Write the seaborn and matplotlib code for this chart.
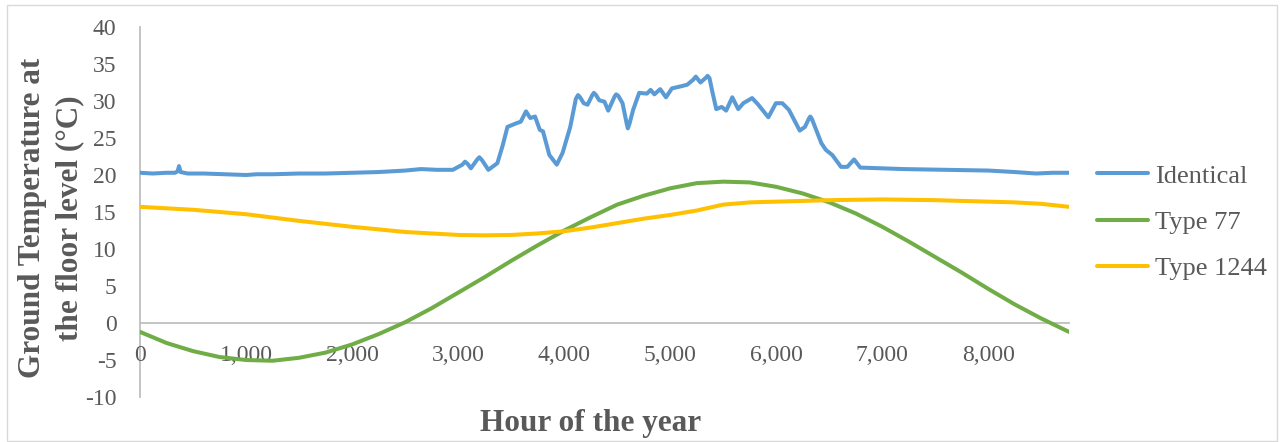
import matplotlib
matplotlib.use("Agg")
import matplotlib.pyplot as plt
import seaborn as sns
import pandas as pd
from matplotlib.patches import Rectangle

# ---- data -------------------------------------------------------------
identical_hours = [0, 120, 250, 330, 355, 368, 382, 450, 600, 800, 1000, 1100,
                   1250, 1500, 1750, 2000, 2250, 2500, 2650, 2800, 2950, 3040,
                   3065, 3090, 3120, 3180, 3200, 3225, 3285, 3370, 3420, 3465,
                   3550, 3590, 3640, 3680, 3725, 3770, 3800, 3860, 3930, 3985,
                   4057, 4110, 4130, 4150, 4184, 4220, 4265, 4280, 4300, 4330,
                   4380, 4415, 4475, 4490, 4510, 4550, 4590, 4600, 4615, 4650,
                   4707, 4780, 4815, 4850, 4905, 4960, 5015, 5105, 5160, 5218,
                   5241, 5285, 5340, 5352, 5370, 5393, 5434, 5485, 5527, 5585,
                   5641, 5689, 5772, 5830, 5925, 5996, 6057, 6119, 6221, 6270,
                   6310, 6321, 6335, 6365, 6425, 6467, 6528, 6610, 6670, 6720,
                   6733, 6750, 6792, 7000, 7200, 7600, 8000, 8250, 8450, 8600,
                   8760]
identical_temps = [20.3, 20.2, 20.3, 20.3, 20.5, 21.2, 20.4, 20.2, 20.2, 20.1,
                   20.0, 20.1, 20.1, 20.2, 20.2, 20.3, 20.4, 20.6, 20.8, 20.7,
                   20.7, 21.4, 21.8, 21.5, 20.9, 22.1, 22.4, 22.0, 20.7, 21.6,
                   24.0, 26.5, 27.0, 27.2, 28.6, 27.7, 27.9, 26.1, 25.9, 22.7,
                   21.4, 23.0, 26.5, 30.3, 30.8, 30.5, 29.7, 29.5, 30.8, 31.1,
                   30.8, 30.1, 29.9, 28.7, 30.6, 30.9, 30.7, 29.7, 26.9, 26.3,
                   26.9, 28.8, 31.1, 31.0, 31.5, 30.9, 31.6, 30.5, 31.7, 32.0,
                   32.2, 32.9, 33.3, 32.5, 33.2, 33.4, 33.1, 31.5, 28.9, 29.2,
                   28.7, 30.5, 28.9, 29.7, 30.4, 29.5, 27.8, 29.7, 29.7, 28.8,
                   26.0, 26.5, 27.7, 27.9, 27.6, 26.5, 24.3, 23.4, 22.7, 21.1,
                   21.1, 21.9, 22.1, 21.8, 21.0, 20.9, 20.8, 20.7, 20.6, 20.4,
                   20.2, 20.3, 20.3]

type77_hours = [0, 250, 500, 750, 1000, 1250, 1500, 1750, 2000, 2250, 2500,
                2750, 3000, 3250, 3500, 3750, 4000, 4250, 4500, 4750, 5000,
                5250, 5500, 5750, 6000, 6250, 6500, 6750, 7000, 7250, 7500,
                7750, 8000, 8250, 8500, 8760]
type77_temps = [-1.2, -2.7, -3.8, -4.6, -5.0, -5.1, -4.7, -4.0, -2.9, -1.5,
                0.1, 2.0, 4.1, 6.2, 8.4, 10.5, 12.5, 14.3, 16.0, 17.2, 18.2,
                18.9, 19.1, 19.0, 18.4, 17.5, 16.3, 14.8, 13.0, 11.0, 8.9, 6.8,
                4.6, 2.5, 0.6, -1.2]

type1244_hours = [0, 500, 1000, 1500, 2000, 2500, 3000, 3250, 3500, 3750, 4000,
                  4250, 4500, 4750, 5000, 5250, 5500, 5750, 6000, 6500, 7000,
                  7500, 8000, 8250, 8500, 8760]
type1244_temps = [15.7, 15.3, 14.7, 13.8, 13.0, 12.3, 11.9, 11.85, 11.9, 12.1,
                  12.4, 12.9, 13.5, 14.1, 14.6, 15.2, 16.0, 16.3, 16.4, 16.6,
                  16.7, 16.6, 16.4, 16.3, 16.1, 15.7]

series_names = ["Identical", "Type 77", "Type 1244"]
series_colors = ["#5B9BD5", "#70AD47", "#FFC000"]
x_ticks = [0, 1000, 2000, 3000, 4000, 5000, 6000, 7000, 8000]
y_ticks = [-10, -5, 0, 5, 10, 15, 20, 25, 30, 35, 40]

df = pd.concat([
    pd.DataFrame({"hour": identical_hours, "temp": identical_temps, "series": series_names[0]}),
    pd.DataFrame({"hour": type77_hours, "temp": type77_temps, "series": series_names[1]}),
    pd.DataFrame({"hour": type1244_hours, "temp": type1244_temps, "series": series_names[2]}),
], ignore_index=True)

# ---- style ------------------------------------------------------------
sns.set_theme(style="white")
plt.rcParams["font.family"] = ["Liberation Serif", "DejaVu Serif"]
text_color = "#595959"
axis_color = "#BFBFBF"

W, H = 1282, 442
fig = plt.figure(figsize=(W / 100, H / 100), dpi=100)
ax = fig.add_axes([140 / W, (H - 397) / H, 929 / W, 370 / H])

sns.lineplot(data=df, x="hour", y="temp", hue="series", hue_order=series_names,
             palette=series_colors, linewidth=2.9, ax=ax, sort=False,
             estimator=None, legend=True, solid_joinstyle="round",
             solid_capstyle="round")

ax.set_xlim(0, 8760)
ax.set_ylim(-10, 40)
ax.set_xticks(x_ticks)
ax.set_xticklabels([f"{v:,}" for v in x_ticks])
ax.set_yticks(y_ticks)
ax.set_yticklabels([str(v) for v in y_ticks])

for side in ["top", "right"]:
    ax.spines[side].set_visible(False)
ax.spines["left"].set_color(axis_color)
ax.spines["left"].set_linewidth(1.3)
ax.spines["bottom"].set_position(("data", 0))
ax.spines["bottom"].set_color(axis_color)
ax.spines["bottom"].set_linewidth(1.3)
ax.spines["left"].set_zorder(0.5)
ax.spines["bottom"].set_zorder(0.5)

ax.tick_params(axis="x", length=0, pad=16, labelsize=17, colors=text_color)
ax.tick_params(axis="y", length=0, pad=17, labelsize=17, colors=text_color)

ax.set_xlabel("Hour of the year", fontsize=22.5, fontweight="bold", color=text_color)
ax.xaxis.set_label_coords((591 - 140) / 929, (397 - 423) / 370)
ax.xaxis.label.set_va("center")
ax.set_ylabel("Ground Temperature at\nthe floor level (°C)", fontsize=22.5,
              fontweight="bold", color=text_color, linespacing=1.35)
ax.yaxis.set_label_coords((51 - 140) / 929, (397 - 218) / 370)
ax.yaxis.label.set_va("center")

leg = ax.legend(loc="center left", bbox_to_anchor=(1097 / W, 1 - 222 / H),
                bbox_transform=fig.transFigure, frameon=False, fontsize=19,
                handlelength=1.95, handletextpad=0.25, labelspacing=0.86,
                borderpad=0, borderaxespad=0)
for line in leg.get_lines():
    line.set_linewidth(2.9)
for t in leg.get_texts():
    t.set_color(text_color)

# chart-area border
fig.patches.append(Rectangle((7 / W, 1 / H), 1270 / W, 436 / H, transform=fig.transFigure,
                             fill=False, edgecolor="#D9D9D9", linewidth=1.0))

fig.savefig("out.png", dpi=100)
